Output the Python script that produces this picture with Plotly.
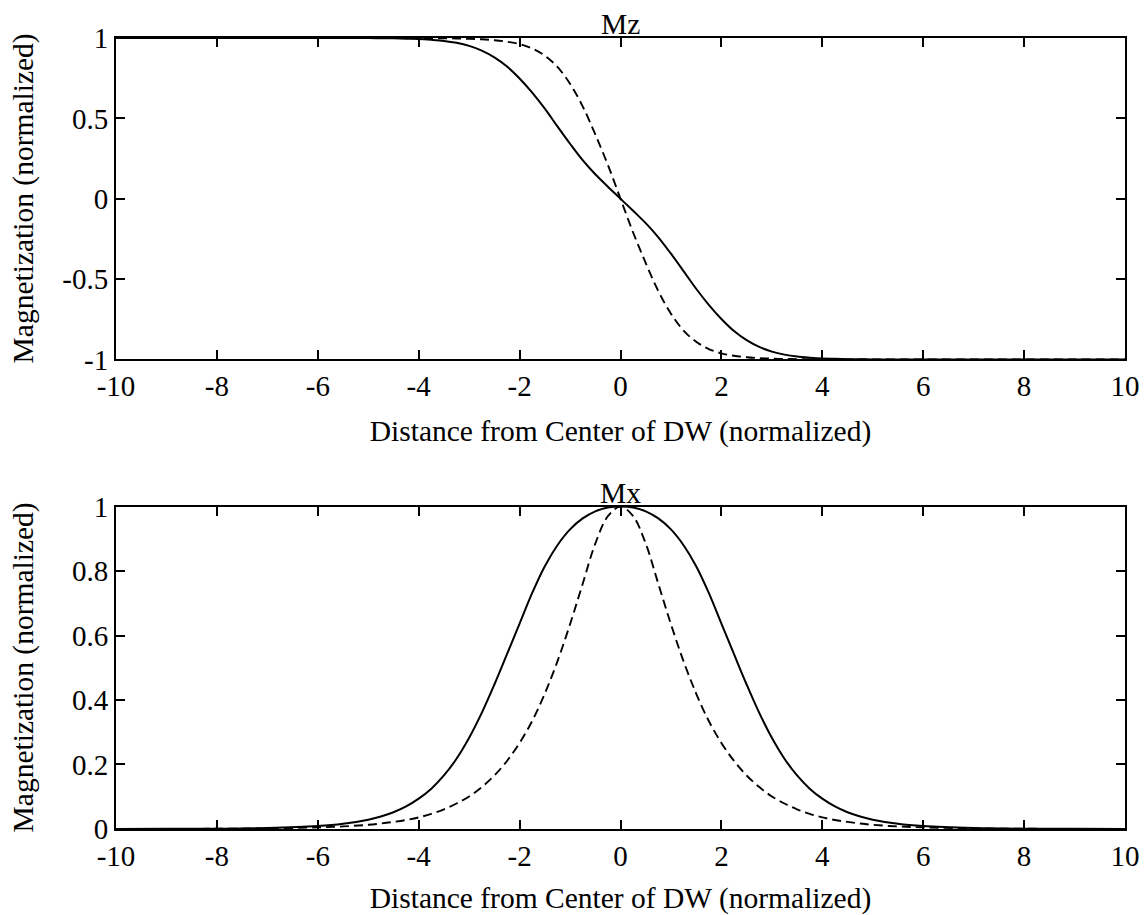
import plotly.graph_objects as go
from plotly.subplots import make_subplots

# distance from the centre of the domain wall (normalized)
x_pos = [-10, -9, -8, -7, -6, -5.5,
         -5, -4.75, -4.5, -4.25, -4, -3.75, -3.5, -3.25, -3, -2.75,
         -2.5, -2.25, -2, -1.75, -1.5, -1.25, -1, -0.75, -0.5, -0.25,
         0,
         0.25, 0.5, 0.75, 1, 1.25, 1.5, 1.75, 2, 2.25, 2.5,
         2.75, 3, 3.25, 3.5, 3.75, 4, 4.25, 4.5, 4.75, 5,
         5.5, 6, 7, 8, 9, 10]

# Mz, solid curve
mz_solid = [1, 1, 1, 1, 1, 1,
            0.9995, 0.999, 0.998, 0.996, 0.994, 0.989, 0.982, 0.97, 0.951, 0.922,
            0.88, 0.823, 0.748, 0.66, 0.56, 0.45, 0.342, 0.24, 0.152, 0.075,
            0,
            -0.075, -0.152, -0.24, -0.342, -0.45, -0.56, -0.66, -0.748, -0.823, -0.88,
            -0.922, -0.951, -0.97, -0.982, -0.989, -0.994, -0.996, -0.998, -0.999, -0.9995,
            -1, -1, -1, -1, -1, -1]

# Mz, dashed curve
mz_dashed = [1, 1, 1, 1, 1, 1,
             1, 1, 1, 1, 0.9995, 0.999, 0.998, 0.997, 0.995, 0.992,
             0.986, 0.977, 0.962, 0.935, 0.89, 0.82, 0.715, 0.575, 0.4, 0.21,
             0,
             -0.21, -0.4, -0.575, -0.715, -0.82, -0.89, -0.935, -0.962, -0.977, -0.986,
             -0.992, -0.995, -0.997, -0.998, -0.999, -0.9995, -1, -1, -1, -1,
             -1, -1, -1, -1, -1, -1]

# Mx, solid curve
mx_solid = [0, 0.0005, 0.001, 0.003, 0.009, 0.016,
            0.029, 0.039, 0.052, 0.07, 0.094, 0.125, 0.166, 0.218, 0.283, 0.36,
            0.448, 0.542, 0.637, 0.732, 0.815, 0.88, 0.929, 0.963, 0.985, 0.997,
            1,
            0.997, 0.985, 0.963, 0.929, 0.88, 0.815, 0.732, 0.637, 0.542, 0.448,
            0.36, 0.283, 0.218, 0.166, 0.125, 0.094, 0.07, 0.052, 0.039, 0.029,
            0.016, 0.009, 0.003, 0.001, 0.0005, 0]

# Mx, dashed curve
mx_dashed = [0.0001, 0.0003, 0.0007, 0.002, 0.005, 0.008,
             0.013, 0.017, 0.022, 0.028, 0.036, 0.047, 0.061, 0.079, 0.101, 0.13,
             0.166, 0.211, 0.267, 0.335, 0.42, 0.52, 0.635, 0.76, 0.885, 0.97,
             1,
             0.97, 0.885, 0.76, 0.635, 0.52, 0.42, 0.335, 0.267, 0.211, 0.166,
             0.13, 0.101, 0.079, 0.061, 0.047, 0.036, 0.028, 0.022, 0.017, 0.013,
             0.008, 0.005, 0.002, 0.0007, 0.0003, 0.0001]

x_tickvals = [-10, -8, -6, -4, -2, 0, 2, 4, 6, 8, 10]
x_ticktext = ["-10", "-8", "-6", "-4", "-2", "0", "2", "4", "6", "8", "10"]
mz_tickvals = [-1, -0.5, 0, 0.5, 1]
mz_ticktext = ["-1", "-0.5", "0", "0.5", "1"]
mx_tickvals = [0, 0.2, 0.4, 0.6, 0.8, 1]
mx_ticktext = ["0", "0.2", "0.4", "0.6", "0.8", "1"]

panel_titles = ["Mz", "Mx"]
x_title = "Distance from Center of DW (normalized)"
y_title = "Magnetization (normalized)"

FONT = "Liberation Serif, Times New Roman, serif"
FS_TICK = 29
FS_TITLE = 29.5

fig = make_subplots(rows=2, cols=1, vertical_spacing=0.186)

solid = dict(color="black", width=2, shape="spline", smoothing=1.0)
dashed = dict(color="black", width=1.9, dash="9px,5px", shape="spline", smoothing=1.0)

fig.add_trace(go.Scatter(x=x_pos, y=mz_solid, mode="lines", line=solid, showlegend=False), row=1, col=1)
fig.add_trace(go.Scatter(x=x_pos, y=mz_dashed, mode="lines", line=dashed, showlegend=False), row=1, col=1)
fig.add_trace(go.Scatter(x=x_pos, y=mx_solid, mode="lines", line=solid, showlegend=False), row=2, col=1)
fig.add_trace(go.Scatter(x=x_pos, y=mx_dashed, mode="lines", line=dashed, showlegend=False), row=2, col=1)

axis_common = dict(showline=True, linecolor="black", linewidth=2, mirror="ticks",
                   ticks="inside", ticklen=9, tickwidth=1.5, tickcolor="black",
                   showgrid=False, zeroline=False, automargin=False,
                   tickfont=dict(family=FONT, size=FS_TICK, color="black"))

for r in (1, 2):
    fig.update_xaxes(range=[-10, 10], tickvals=x_tickvals, ticktext=x_ticktext,
                     title=dict(text=x_title, font=dict(family=FONT, size=FS_TITLE, color="black"), standoff=19),
                     **axis_common, row=r, col=1)

fig.update_yaxes(range=[-1, 1], tickvals=mz_tickvals, ticktext=mz_ticktext, **axis_common, row=1, col=1)
fig.update_yaxes(range=[0, 1], tickvals=mx_tickvals, ticktext=mx_ticktext, **axis_common, row=2, col=1)

fig.update_layout(
    width=1145, height=915,
    margin=dict(l=116, r=20, t=38, b=86, autoexpand=False),
    paper_bgcolor="white", plot_bgcolor="white",
    font=dict(family=FONT, size=FS_TICK, color="black"),
)
fig.layout.yaxis.domain = [0.5936, 1.0]
fig.layout.yaxis2.domain = [0.0, 0.4077]

for i, t in enumerate(panel_titles):
    yref = "y domain" if i == 0 else "y2 domain"
    xref = "x domain" if i == 0 else "x2 domain"
    fig.add_annotation(text=t, x=0.5, y=1, xref=xref, yref=yref, yanchor="middle",
                       yshift=14, showarrow=False, font=dict(family=FONT, size=FS_TITLE, color="black"))
    fig.add_annotation(text=y_title, x=-0.0915, xref="paper", y=0.5, yref=yref,
                       textangle=-90, xanchor="center", yanchor="middle", showarrow=False,
                       font=dict(family=FONT, size=FS_TITLE, color="black"))

fig.write_html("out.html")
